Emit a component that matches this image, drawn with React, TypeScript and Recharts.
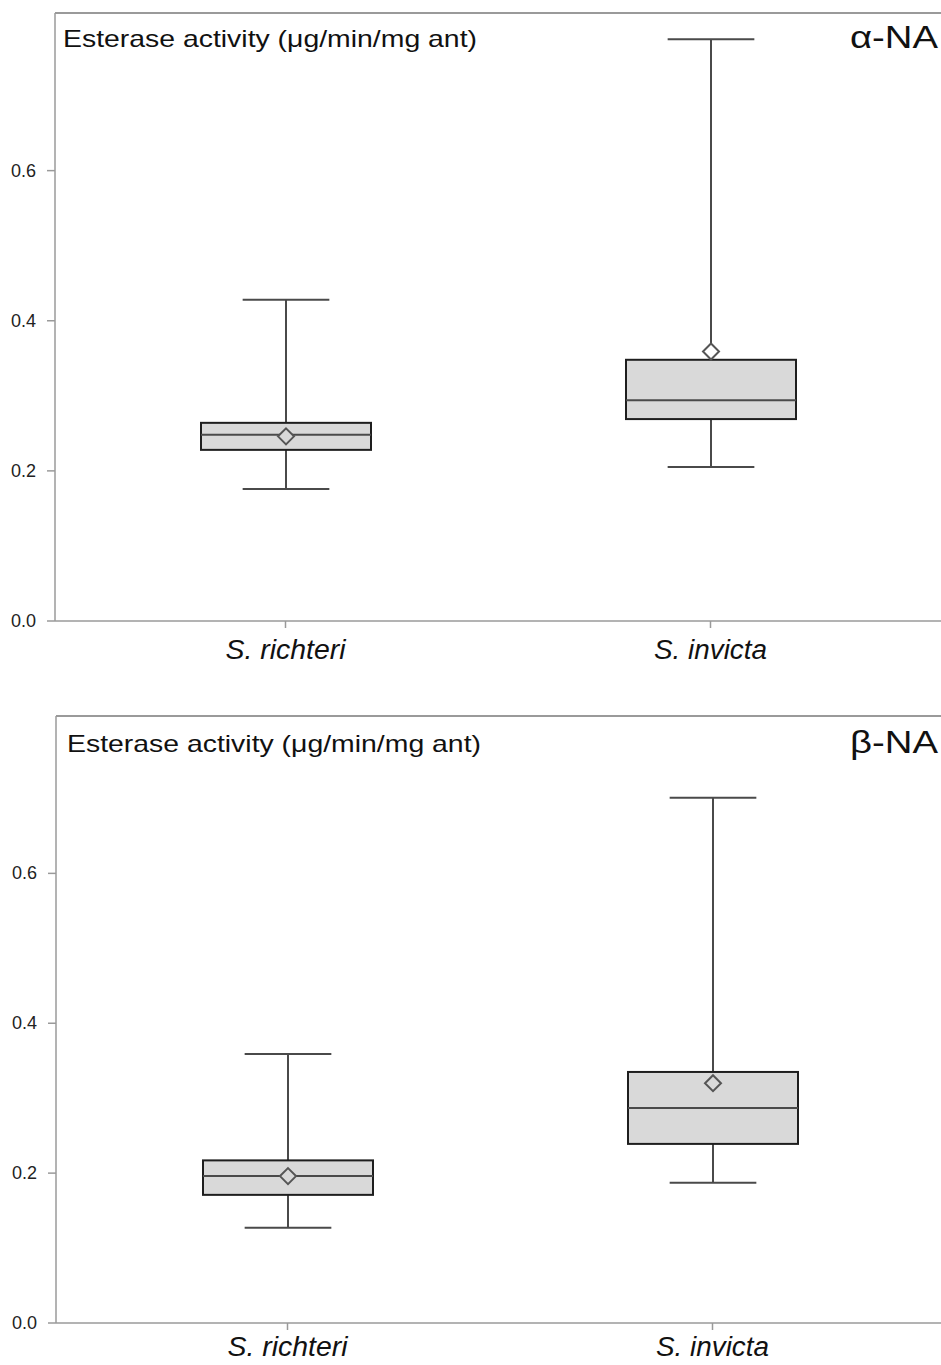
import React from 'react';
import { ComposedChart, Bar, XAxis, YAxis, ReferenceLine } from 'recharts';

const categories = ['S. richteri', 'S. invicta'];
const categoryLabelWidths = [120, 113];
const yTicks = [0, 0.2, 0.4, 0.6];

// alpha-NA panel
const alphaMin = [0.176, 0.205];
const alphaQ1 = [0.228, 0.269];
const alphaMedian = [0.248, 0.294];
const alphaQ3 = [0.264, 0.348];
const alphaMax = [0.428, 0.775];
const alphaMean = [0.246, 0.359];

// beta-NA panel
const betaMin = [0.127, 0.187];
const betaQ1 = [0.171, 0.239];
const betaMedian = [0.196, 0.287];
const betaQ3 = [0.217, 0.335];
const betaMax = [0.359, 0.701];
const betaMean = [0.196, 0.32];

type Row = {
  name: string;
  min: number;
  q1: number;
  median: number;
  q3: number;
  max: number;
  mean: number;
};

const buildRows = (
  mins: number[],
  q1s: number[],
  meds: number[],
  q3s: number[],
  maxs: number[],
  means: number[]
): Row[] =>
  categories.map((name, i) => ({
    name,
    min: mins[i],
    q1: q1s[i],
    median: meds[i],
    q3: q3s[i],
    max: maxs[i],
    mean: means[i],
  }));

const alphaRows = buildRows(alphaMin, alphaQ1, alphaMedian, alphaQ3, alphaMax, alphaMean);
const betaRows = buildRows(betaMin, betaQ1, betaMedian, betaQ3, betaMax, betaMean);

const AXIS = '#9a9a9a';
const BOX_FILL = '#d9d9d9';
const LINE = '#4a4a4a';
const FONT = "'Liberation Sans', Arial, sans-serif";

const BoxShape = (props: any) => {
  const { x, y, width, height, payload } = props;
  if (!payload) return null;
  const top = Math.min(y, y + height);
  const bottom = Math.max(y, y + height);
  const px = (bottom - top) / (payload.max - payload.min);
  const toY = (v: number) => bottom - (v - payload.min) * px;
  const cx = x + width / 2;
  const cap = width * 0.255;
  const yQ1 = toY(payload.q1);
  const yQ3 = toY(payload.q3);
  const yMed = toY(payload.median);
  const yMean = toY(payload.mean);
  const d = 8;
  const inBox = payload.mean >= payload.q1 && payload.mean <= payload.q3;
  return (
    <g>
      <line x1={cx} x2={cx} y1={top} y2={yQ3} stroke={LINE} strokeWidth={2} />
      <line x1={cx} x2={cx} y1={yQ1} y2={bottom} stroke={LINE} strokeWidth={2} />
      <line x1={cx - cap} x2={cx + cap} y1={top} y2={top} stroke={LINE} strokeWidth={2} />
      <line x1={cx - cap} x2={cx + cap} y1={bottom} y2={bottom} stroke={LINE} strokeWidth={2} />
      <rect x={x} y={yQ3} width={width} height={yQ1 - yQ3} fill={BOX_FILL} stroke="#1e1e1e" strokeWidth={2} />
      <line x1={x} x2={x + width} y1={yMed} y2={yMed} stroke={LINE} strokeWidth={2} />
      <path
        d={`M${cx},${yMean - d} L${cx + d},${yMean} L${cx},${yMean + d} L${cx - d},${yMean} Z`}
        fill={inBox ? BOX_FILL : '#fff'}
        stroke="#555"
        strokeWidth={2}
      />
    </g>
  );
};

const YTick = (props: any) => {
  const { x, y, payload } = props;
  return (
    <text x={x} y={y} dy={6} textAnchor="end" fill="#222" fontSize={18} fontFamily={FONT}>
      {payload.value.toFixed(1)}
    </text>
  );
};

const XTick = (props: any) => {
  const { x, y, payload, index } = props;
  return (
    <text
      x={x}
      y={y}
      dy={20}
      textAnchor="middle"
      fill="#111"
      fontSize={27}
      fontStyle="italic"
      fontFamily={FONT}
      textLength={categoryLabelWidths[index]}
      lengthAdjust="spacingAndGlyphs"
    >
      {payload.value}
    </text>
  );
};

type PanelProps = {
  rows: Row[];
  top: number;
  height: number;
  axisWidth: number;
  marginTop: number;
  xAxisHeight: number;
  labelGap: number;
  padLeft: number;
  padRight: number;
  tag: string;
  titleLeft: number;
  titleBaseline: number;
};

const Panel = ({
  rows,
  top,
  height,
  axisWidth,
  marginTop,
  xAxisHeight,
  labelGap,
  padLeft,
  padRight,
  tag,
  titleLeft,
  titleBaseline,
}: PanelProps) => (
  <div style={{ position: 'absolute', left: 0, top, width: 941, height }}>
    <ComposedChart
      width={941}
      height={height}
      data={rows}
      margin={{ top: marginTop, right: 0, bottom: 0, left: 0 }}
    >
      <XAxis
        dataKey="name"
        type="category"
        stroke={AXIS}
        strokeWidth={1.5}
        height={xAxisHeight}
        tickSize={7}
        tickMargin={labelGap}
        padding={{ left: padLeft, right: padRight }}
        tick={<XTick />}
      />
      <YAxis
        type="number"
        domain={[0, 0.81]}
        ticks={yTicks}
        allowDataOverflow
        width={axisWidth}
        stroke={AXIS}
        strokeWidth={1.5}
        tickSize={8}
        tickMargin={11}
        tick={<YTick />}
      />
      <ReferenceLine y={0.81} stroke={AXIS} strokeWidth={2} />
      <Bar
        dataKey={(d: Row) => [d.min, d.max]}
        barSize={170}
        shape={<BoxShape />}
        isAnimationActive={false}
      />
    </ComposedChart>
    <svg
      width={941}
      height={80}
      style={{ position: 'absolute', left: 0, top: 0, pointerEvents: 'none' }}
    >
      <text
        x={titleLeft}
        y={titleBaseline}
        fontFamily={FONT}
        fontSize={24}
        fill="#111"
        textLength={414}
        lengthAdjust="spacingAndGlyphs"
      >
        Esterase activity (μg/min/mg ant)
      </text>
      <text
        x={850}
        y={titleBaseline + 1}
        fontFamily={FONT}
        fontSize={31}
        fill="#111"
        textLength={88}
        lengthAdjust="spacingAndGlyphs"
      >
        {tag}
      </text>
    </svg>
  </div>
);

const App = () => (
  <div
    style={{
      position: 'absolute',
      left: 0,
      top: 0,
      width: 941,
      height: 1365,
      overflow: 'hidden',
      background: '#fff',
    }}
  >
    <Panel
      rows={alphaRows}
      top={0}
      height={690}
      axisWidth={55}
      marginTop={13}
      xAxisHeight={69}
      labelGap={11}
      padLeft={18}
      padRight={18}
      tag="α-NA"
      titleLeft={63}
      titleBaseline={47}
    />
    <Panel
      rows={betaRows}
      top={700}
      height={665}
      axisWidth={56}
      marginTop={16}
      xAxisHeight={42}
      labelGap={6}
      padLeft={19}
      padRight={16}
      tag="β-NA"
      titleLeft={67}
      titleBaseline={52}
    />
  </div>
);

export default App;
